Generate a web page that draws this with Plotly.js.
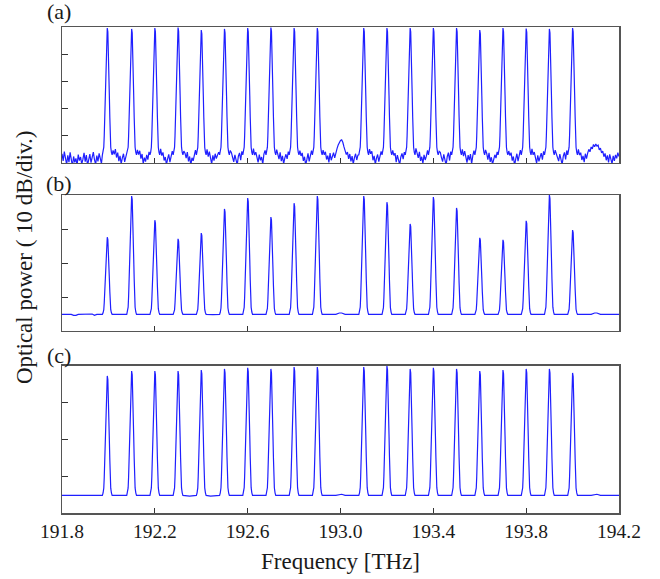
<!DOCTYPE html>
<html>
<head>
<meta charset="utf-8">
<script src="https://cdn.plot.ly/plotly-3.0.1.min.js"></script>
<style>html,body{margin:0;padding:0;background:#fff;}#chart{width:660px;height:579px;}</style>
</head>
<body>
<div id="chart"></div>
<script>
// Channel centre frequencies (THz)
const FREQ = [191.995,192.1,192.2,192.3,192.4,192.5,192.6,192.7,192.8,192.9,
              193.1,193.2,193.3,193.4,193.5,193.6,193.7,193.8,193.9,194.0];
// Peak levels (dB above bottom of each panel)
const PEAK_A = [49.6,49.3,49.6,49.8,48.9,49.3,49.6,49.8,49.6,49.6,
                49.6,49.6,49.6,49.6,49.6,48.9,49.6,49.4,49.3,49.6];
const PEAK_B = [27.6,39.7,32.6,27.1,28.8,35.9,39.1,33.5,37.6,39.7,
                39.7,37.9,31.5,39.4,36.2,27.4,26.8,32.4,40.0,29.7];
const PEAK_C = [37.3,38.6,38.6,38.6,38.9,39.2,39.5,39.2,39.7,39.7,
                39.7,40.0,39.2,39.5,39.2,38.6,38.9,39.2,39.2,38.1];
// Peak line shape: offset (THz) and fraction of height above floor
const SHAPE_OFF  = [-0.021,-0.018,-0.015,-0.013,-0.011,-0.009,-0.007,-0.005,-0.0025,0,
                    0.0025,0.005,0.007,0.009,0.011,0.013,0.015,0.018,0.021];
const SHAPE_FRAC = [0,0.02,0.06,0.15,0.3,0.47,0.66,0.84,0.97,1,
                    0.97,0.84,0.66,0.47,0.3,0.15,0.06,0.02,0];
// Panel (a) noise floor, sampled every 0.005 THz from 191.800 THz
const NOISE_A_START = 191.8, NOISE_A_STEP = 0.005;
const NOISE_A = [
 3.4,0.8,4.2,1.5,-0.6,2.8,0.3,3.9,1.1,-1.2,2.4,0.2,1.7,-0.8,3.1,0.9,2.2,-0.4,1.3,3.7,
 0.5,2.9,-0.9,1.6,3.3,0.1,2.5,4.0,1.2,-0.5,2.7,0.6,3.5,1.8,-0.2,3,3,3,3,3,
 3,3,3,3,4.6,3.2,5.1,2.0,3.8,0.7,2.6,-0.3,1.9,3.4,0.4,2.1,3,3,3,3,
 3,3,3,3,3,4.8,3.1,4.5,1.6,3.3,-0.2,2.0,0.5,3.0,1.2,4.1,3,3,3,3,
 3,3,3,3,3,5.2,2.7,3.9,0.9,2.2,-0.6,1.5,3.2,0.3,2.6,4.4,3,3,3,3,
 3,3,3,3,3,4.4,3.6,1.8,4.0,0.6,2.4,-0.9,1.9,0.8,3.5,4.7,3,3,3,3,
 3,3,3,3,3,5.0,2.3,4.2,1.1,-0.4,2.8,0.9,3.4,1.6,2.9,4.0,3,3,3,3,
 3,3,3,3,3,4.6,3.8,2.1,0.4,3.0,1.3,-0.7,2.5,3.7,1.0,4.3,3,3,3,3,
 3,3,3,3,3,5.3,2.9,4.0,1.7,0.2,3.1,1.0,2.2,-0.5,3.3,4.6,3,3,3,3,
 3,3,3,3,3,4.9,3.3,1.4,3.9,0.7,2.6,-0.3,1.8,3.2,1.5,4.2,3,3,3,3,
 3,3,3,3,3,4.5,2.6,3.7,0.8,2.3,-0.8,1.2,3.5,0.6,2.8,4.5,3,3,3,3,
 3,3,3,3,3,4.7,3.0,4.1,1.3,2.7,0.2,3.6,1.0,2.4,3.8,1.9,4.4,5.3,6.6,7.6,
 8.3,8.5,7.6,5.9,4.4,3.1,4.0,1.5,3.3,0.6,2.5,-0.4,2.0,3.4,1.1,2.9,3,3,3,3,
 3,3,3,3,3,5.1,3.4,4.3,1.0,2.6,-0.5,1.8,3.1,0.5,2.7,4.3,3,3,3,3,
 3,3,3,3,3,4.6,2.8,3.6,0.3,2.9,1.2,-0.6,2.2,3.5,1.4,4.0,3,3,3,3,
 3,3,3,3,3,5.4,3.2,1.9,4.1,0.8,2.3,-0.2,3.0,1.1,2.5,4.6,3,3,3,3,
 3,3,3,3,3,4.3,3.9,2.0,0.5,3.2,1.6,-0.8,2.4,3.8,0.9,4.2,3,3,3,3,
 3,3,3,3,3,5.0,2.5,4.4,1.3,0.1,2.9,1.0,3.3,-0.3,2.6,4.5,3,3,3,3,
 3,3,3,3,3,4.8,3.5,1.2,3.7,0.4,2.1,-0.5,1.7,3.0,1.8,4.1,3,3,3,3,
 3,3,3,3,3,4.4,2.7,3.8,0.9,2.4,-0.9,1.4,3.4,0.7,3.1,4.7,3,3,3,3,
 3,3,3,3,3,5.2,3.0,4.0,1.5,-0.1,2.8,0.6,2.2,3.6,1.2,4.3,3,3,3,3,
 3,3,3,3,3,4.7,3.6,2.3,0.7,3.3,1.0,-0.6,2.5,3.9,1.3,4.6,3,3,3,3,
 3,3,3,3,3,5.0,2.9,3.8,1.1,2.6,0.3,3.4,1.6,3.6,5.0,4.1,5.9,5.2,6.8,6.0,
 7.0,6.2,6.6,4.8,5.5,3.7,4.4,2.3,3.5,1.0,2.8,0.2,3.2,1.4,-0.3,2.6,0.8,3.0,1.7,3.8,
 2.4];
const FLOOR_A = 3.0;
// Panels (b) and (c) baseline breakpoints
const BASE_B_F = [191.80,191.84,191.85,191.86,191.87,191.90,191.93,191.94,191.95,191.97,192.40,192.45,192.50,192.98,192.995,193.005,193.02,194.08,194.095,194.105,194.12,194.20];
const BASE_B_V = [4.9,4.9,4.6,4.6,4.9,4.9,5.0,4.6,4.9,4.9,4.8,4.8,4.9,4.9,5.3,5.3,4.9,4.9,5.3,5.3,4.9,4.9];
const FLOOR_B = 4.9;
const BASE_C_F = [191.80,191.97,192.32,192.35,192.38,192.42,192.44,192.47,192.98,192.995,193.005,193.02,194.08,194.095,194.105,194.12,194.20];
const BASE_C_V = [4.8,4.8,4.8,4.6,4.8,4.8,4.6,4.8,4.8,5.1,5.1,4.8,4.8,5.1,5.1,4.8,4.8];
const FLOOR_C = 4.8;
const TICK_X = [191.8,192.2,192.6,193.0,193.4,193.8,194.2];
const TICK_X_TEXT = ['191.8','192.2','192.6','193.0','193.4','193.8','194.2'];

function buildTrace(bx, by, peaks, floor) {
  const pts = [];
  bx.forEach((x, i) => {
    if (!FREQ.some(c => Math.abs(x - c) < 0.0215)) pts.push([x, by[i]]);
  });
  FREQ.forEach((c, k) => {
    SHAPE_OFF.forEach((o, j) => pts.push([c + o, floor + (peaks[k] - floor) * SHAPE_FRAC[j]]));
  });
  pts.sort((p, q) => p[0] - q[0]);
  return {x: pts.map(p => p[0]), y: pts.map(p => p[1])};
}

const noiseX = NOISE_A.map((v, i) => NOISE_A_START + i * NOISE_A_STEP);
const ta = buildTrace(noiseX, NOISE_A, PEAK_A, FLOOR_A);
const tb = buildTrace(BASE_B_F, BASE_B_V, PEAK_B, FLOOR_B);
const tc = buildTrace(BASE_C_F, BASE_C_V, PEAK_C, FLOOR_C);

const LINE = {color: '#1f1fff', width: 1.2};
const data = [
  {x: ta.x, y: ta.y, xaxis: 'x3', yaxis: 'y', type: 'scatter', mode: 'lines', line: LINE, hoverinfo: 'skip'},
  {x: tb.x, y: tb.y, xaxis: 'x2', yaxis: 'y2', type: 'scatter', mode: 'lines', line: LINE, hoverinfo: 'skip'},
  {x: tc.x, y: tc.y, xaxis: 'x', yaxis: 'y3', type: 'scatter', mode: 'lines', line: LINE, hoverinfo: 'skip'}
];

const SERIF = 'Liberation Serif';
const TXT = '#1a1a1a';
const axCommon = {
  showline: true, mirror: true, linecolor: '#555', linewidth: 1.5,
  showgrid: false, zeroline: false, ticks: 'inside', tickcolor: '#333', tickwidth: 1
};
const xCommon = Object.assign({}, axCommon, {
  range: [191.8, 194.2], tickmode: 'array', tickvals: TICK_X, ticktext: TICK_X_TEXT, ticklen: 5
});
const yCommon = Object.assign({}, axCommon, {showticklabels: false, ticklen: 6, dtick: 10, tick0: 0});

const layout = {
  width: 660, height: 579,
  margin: {l: 62, r: 41, t: 27, b: 66},
  paper_bgcolor: '#fff', plot_bgcolor: '#fff',
  showlegend: false,
  font: {family: SERIF, color: TXT},
  xaxis: Object.assign({}, xCommon, {anchor: 'y3', showticklabels: true,
    tickfont: {family: SERIF, size: 19.5, color: TXT},
    title: {text: 'Frequency [THz]', font: {family: SERIF, size: 23, color: TXT}, standoff: 12}}),
  xaxis2: Object.assign({}, xCommon, {anchor: 'y2', showticklabels: false}),
  xaxis3: Object.assign({}, xCommon, {anchor: 'y', showticklabels: false}),
  yaxis: Object.assign({}, yCommon, {domain: [0.7202, 1], range: [0, 50], anchor: 'x3'}),
  yaxis2: Object.assign({}, yCommon, {domain: [0.3745, 0.6543], range: [0, 40], anchor: 'x2'}),
  yaxis3: Object.assign({}, yCommon, {domain: [0, 0.3025], range: [0, 40], anchor: 'x'}),
  annotations: [
    {text: '(a)', xref: 'paper', yref: 'paper', x: -0.0054, y: 1.0309, xanchor: 'center', yanchor: 'middle', showarrow: false, font: {family: SERIF, size: 22, color: TXT}},
    {text: '(b)', xref: 'paper', yref: 'paper', x: -0.0054, y: 0.679, xanchor: 'center', yanchor: 'middle', showarrow: false, font: {family: SERIF, size: 22, color: TXT}},
    {text: '(c)', xref: 'paper', yref: 'paper', x: -0.0054, y: 0.325, xanchor: 'center', yanchor: 'middle', showarrow: false, font: {family: SERIF, size: 22, color: TXT}},
    {text: 'Optical power ( 10 dB/div.)', xref: 'paper', yref: 'paper', x: -0.0664, y: 0.5247, xanchor: 'center', yanchor: 'middle', textangle: -90, showarrow: false, font: {family: SERIF, size: 23, color: TXT}}
  ]
};

Plotly.newPlot('chart', data, layout, {staticPlot: true, displayModeBar: false});
</script>
</body>
</html>
